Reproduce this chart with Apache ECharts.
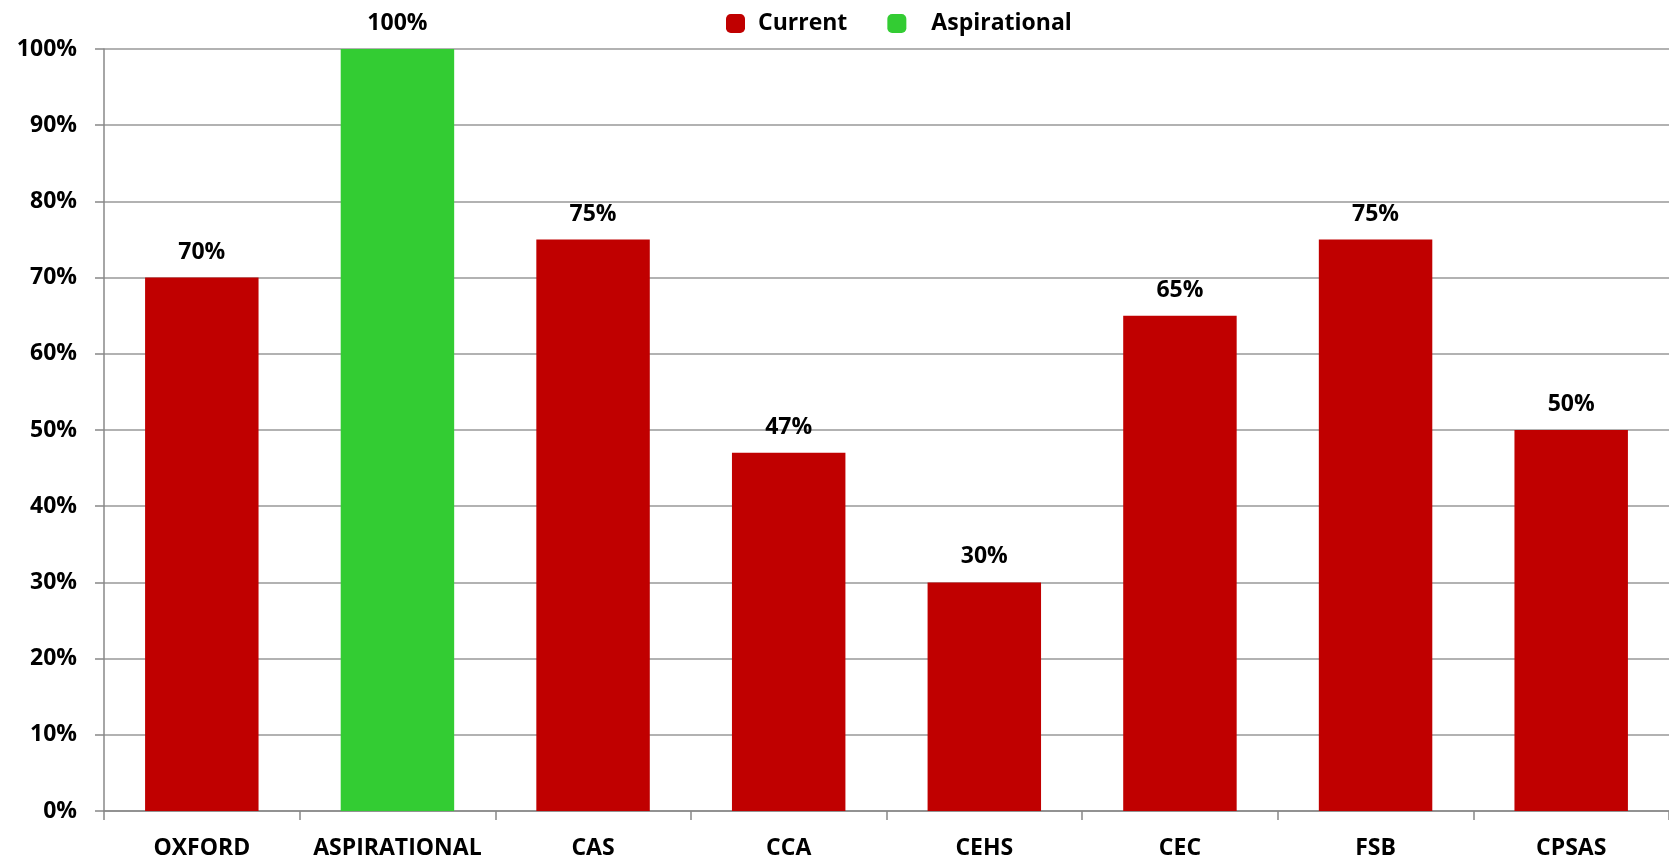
<!DOCTYPE html>
<html>
<head>
<meta charset="utf-8">
<script src="https://cdn.jsdelivr.net/npm/echarts@6/dist/echarts.min.js"></script>
<style>html,body{margin:0;padding:0;background:#fff}#c{width:1669px;height:861px}</style>
</head>
<body>
<div id="c"></div>
<script>
const categories = ['OXFORD','ASPIRATIONAL','CAS','CCA','CEHS','CEC','FSB','CPSAS'];
const currentValues = [70, null, 75, 47, 30, 65, 75, 50];
const aspirationalValues = [null, 100, null, null, null, null, null, null];
const yTicks = [0,10,20,30,40,50,60,70,80,90,100];

const FONT = 'Open Sans';
const chart = echarts.init(document.getElementById('c'));
const labelCfg = {show:true, position:'top', distance:14, formatter: p => p.value + '%', fontFamily:FONT, fontWeight:'bold', fontSize:23, color:'#000'};
chart.setOption({
  animation:false,
  legend:{top:7, left:721, itemWidth:19, itemHeight:19, itemGap:40,
    itemStyle:{borderRadius:3},
    textStyle:{fontFamily:FONT, fontWeight:'bold', fontSize:23, color:'#000'},
    data:[{name:'Current', icon:'roundRect', textStyle:{padding:[0,0,0,8]}},
          {name:'Aspirational', icon:'roundRect', textStyle:{padding:[0,0,0,20]}}]},
  grid:{left:104, right:0, top:49, bottom:50},
  xAxis:{type:'category', data:categories,
    axisLine:{lineStyle:{color:'#888', width:1.5}},
    axisTick:{show:true, length:9, lineStyle:{color:'#888', width:1.5}},
    axisLabel:{interval:0, margin:26, fontFamily:FONT, fontWeight:'bold', fontSize:23, color:'#000'}},
  yAxis:{type:'value', min:0, max:100, interval:10,
    axisLine:{show:true, lineStyle:{color:'#888', width:1.5}},
    axisTick:{show:true, length:9, lineStyle:{color:'#888', width:1.5}},
    splitLine:{lineStyle:{color:'#999', width:1.5}},
    axisLabel:{margin:27, formatter: v => yTicks.includes(v) ? v + '%' : '', fontFamily:FONT, fontWeight:'bold', fontSize:23, color:'#000'}},
  series:[
    {name:'Current', type:'bar', stack:'s', barWidth:'58%', data:currentValues, itemStyle:{color:'#C00000'}, label:labelCfg},
    {name:'Aspirational', type:'bar', stack:'s', barWidth:'58%', data:aspirationalValues, itemStyle:{color:'#33CC33'}, label:labelCfg}
  ]
});
</script>
</body>
</html>
